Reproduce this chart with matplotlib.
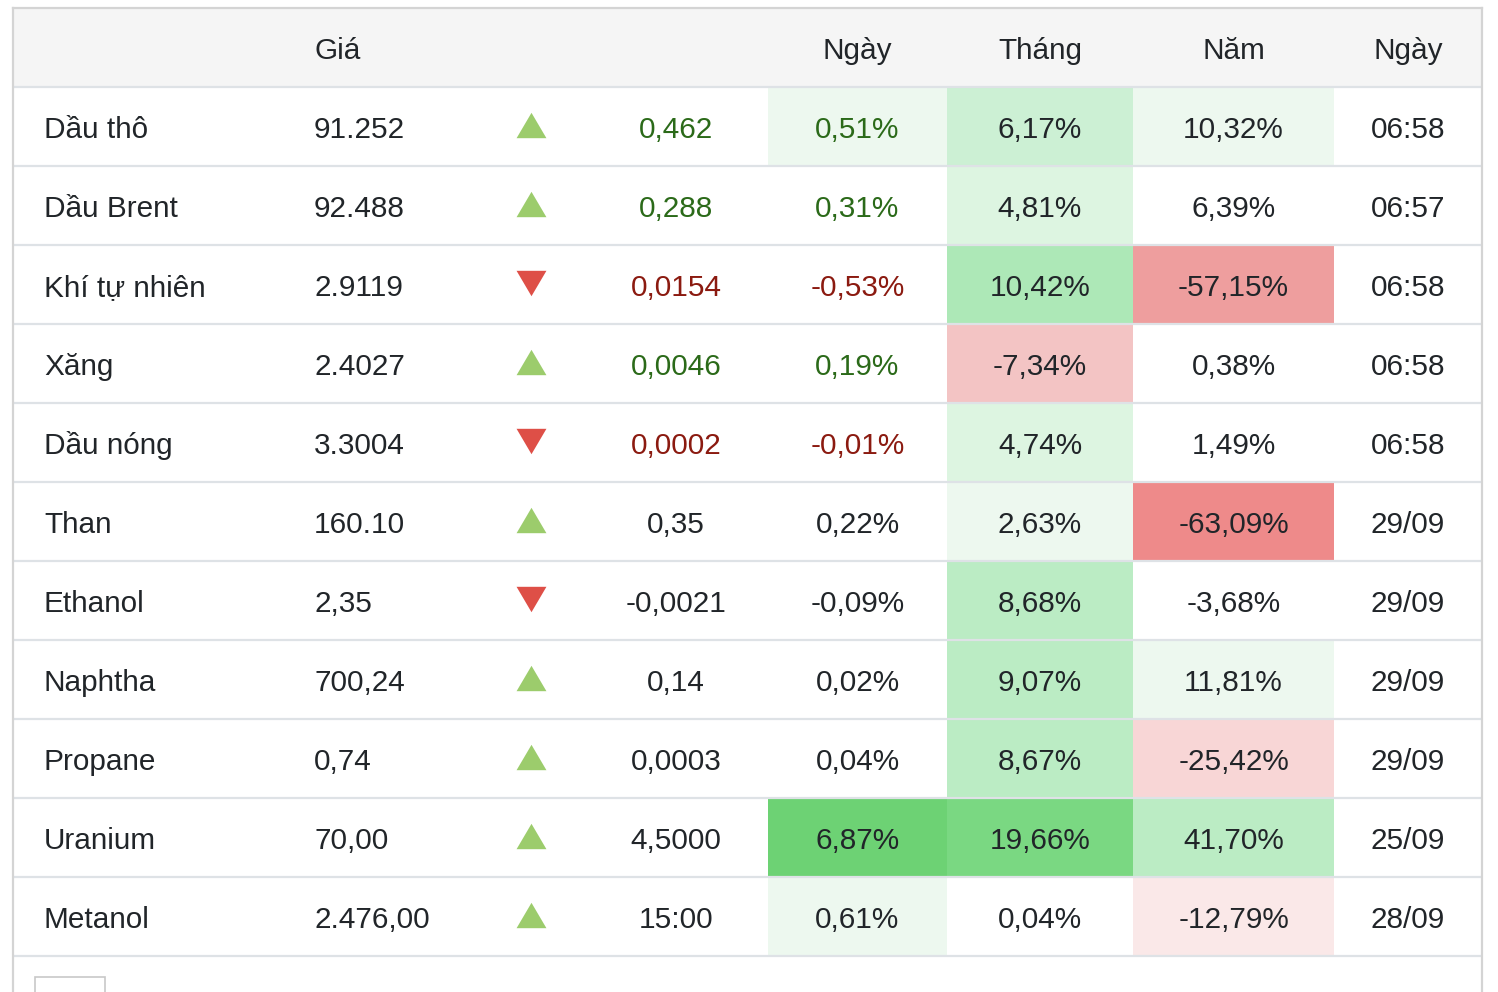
import matplotlib
matplotlib.use("Agg")
import matplotlib.pyplot as plt
from matplotlib.patches import Rectangle

# ---------------- data ----------------
headers = ["", "Giá", "", "", "Ngày", "Tháng", "Năm", "Ngày"]
names = ["Dầu thô", "Dầu Brent", "Khí tự nhiên", "Xăng", "Dầu nóng", "Than",
         "Ethanol", "Naphtha", "Propane", "Uranium", "Metanol"]
prices = ["91.252", "92.488", "2.9119", "2.4027", "3.3004", "160.10",
          "2,35", "700,24", "0,74", "70,00", "2.476,00"]
directions = ["up", "up", "down", "up", "down", "up", "down", "up", "up", "up", "up"]
changes = ["0,462", "0,288", "0,0154", "0,0046", "0,0002", "0,35",
           "-0,0021", "0,14", "0,0003", "4,5000", "15:00"]
day_pct = ["0,51%", "0,31%", "-0,53%", "0,19%", "-0,01%", "0,22%",
           "-0,09%", "0,02%", "0,04%", "6,87%", "0,61%"]
month_pct = ["6,17%", "4,81%", "10,42%", "-7,34%", "4,74%", "2,63%",
             "8,68%", "9,07%", "8,67%", "19,66%", "0,04%"]
year_pct = ["10,32%", "6,39%", "-57,15%", "0,38%", "1,49%", "-63,09%",
            "-3,68%", "11,81%", "-25,42%", "41,70%", "-12,79%"]
times = ["06:58", "06:57", "06:58", "06:58", "06:58", "29/09",
         "29/09", "29/09", "29/09", "25/09", "28/09"]
colored_rows = [True, True, True, True, True, False, False, False, False, False, False]

# ---------------- styles ----------------
palette = {
    "w": "#ffffff",
    "g1": "#edf8ef", "g2": "#ddf5e1", "g3": "#ccf0d4", "g4": "#bbecc4",
    "g5": "#ade8b7", "g6": "#7ad882", "g7": "#6dd274",
    "r1": "#fae8e8", "r2": "#f8d6d6", "r3": "#f3c4c4", "r4": "#ee9e9e", "r5": "#ee8a8a",
}
day_bg = ["g1", "w", "w", "w", "w", "w", "w", "w", "w", "g7", "g1"]
month_bg = ["g3", "g2", "g5", "r3", "g2", "g1", "g4", "g4", "g4", "g6", "w"]
year_bg = ["g1", "w", "r4", "w", "w", "r5", "w", "g1", "r2", "g4", "r1"]

TEXT = "#212529"
UP_TEXT = "#2b6a19"
DOWN_TEXT = "#8b1a10"
UP_TRI = "#9ccc6c"
DOWN_TRI = "#de4f47"
LINE = "#dee2e6"
BORDER = "#d4d4d4"
HEADER_BG = "#f5f5f5"

W, H = 1498, 992
fig = plt.figure(figsize=(W / 100, H / 100), dpi=100)
ax = fig.add_axes([0, 0, 1, 1])
ax.set_xlim(0, W)
ax.set_ylim(H, 0)
ax.axis("off")

FONT = "Liberation Sans"
FS = 21.4

left, right = 13, 1482
top, header_bottom = 8, 87
row_h = 79
n = len(names)

# header background
ax.add_patch(Rectangle((left, top), right - left, header_bottom - top,
                       facecolor=HEADER_BG, edgecolor="none", zorder=0))

# column geometry
col_name_x = 44
col_price_x = 314
col_arrow_x = 531
col_change_x = 676
cells = [(768, 947), (947, 1133), (1133, 1334)]
col_time_x = 1408

# heat cells
for i in range(n):
    y0 = header_bottom + i * row_h
    for (x0, x1), bg in zip(cells, (day_bg[i], month_bg[i], year_bg[i])):
        if bg != "w":
            ax.add_patch(Rectangle((x0, y0 + 1), x1 - x0, row_h - 1,
                                   facecolor=palette[bg], edgecolor="none", zorder=1))

# horizontal lines
for i in range(n + 1):
    y = header_bottom + i * row_h
    ax.plot([left, right], [y, y], color=LINE, lw=1.6, zorder=2, solid_capstyle="butt")
ax.plot([left, right], [top, top], color=BORDER, lw=1.6, zorder=3)
ax.plot([left, left], [top, H], color=BORDER, lw=1.6, zorder=3)
ax.plot([right, right], [top, H], color=BORDER, lw=1.6, zorder=3)

# small box at the bottom
ax.add_patch(Rectangle((35, 977), 70, 30, facecolor="white", edgecolor="#c8c8c8",
                       lw=1.2, zorder=3))

BASE = 11.8

def txt(x, y, s, ha="center", color=TEXT):
    ax.text(x, y + BASE, s, ha=ha, va="baseline", fontsize=FS, family=FONT,
            color=color, zorder=4)

# header
hy = (top + header_bottom) / 2
txt(col_price_x, hy, headers[1], ha="left")
for (x0, x1), h in zip(cells, headers[4:7]):
    txt((x0 + x1) / 2, hy, h)
txt(col_time_x, hy, headers[7])

# rows
tri_up = [(-1, -0.85), (1, -0.85), (0, 0.85)]
tri_down = [(-1, 0.85), (1, 0.85), (0, -0.85)]
for i in range(n):
    cy = header_bottom + i * row_h + row_h / 2
    up = directions[i] == "up"
    if colored_rows[i]:
        c = UP_TEXT if up else DOWN_TEXT
    else:
        c = TEXT
    txt(col_name_x, cy, names[i], ha="left")
    txt(col_price_x, cy, prices[i], ha="left")
    ax.scatter([col_arrow_x], [cy - 1.5], marker=tri_up if up else tri_down, s=21.5 ** 2,
               color=UP_TRI if up else DOWN_TRI, linewidths=0, zorder=4)
    txt(col_change_x, cy, changes[i], color=c)
    txt(sum(cells[0]) / 2, cy, day_pct[i], color=c)
    txt(sum(cells[1]) / 2, cy, month_pct[i])
    txt(sum(cells[2]) / 2, cy, year_pct[i])
    txt(col_time_x, cy, times[i])

fig.savefig("out.png", dpi=100)
